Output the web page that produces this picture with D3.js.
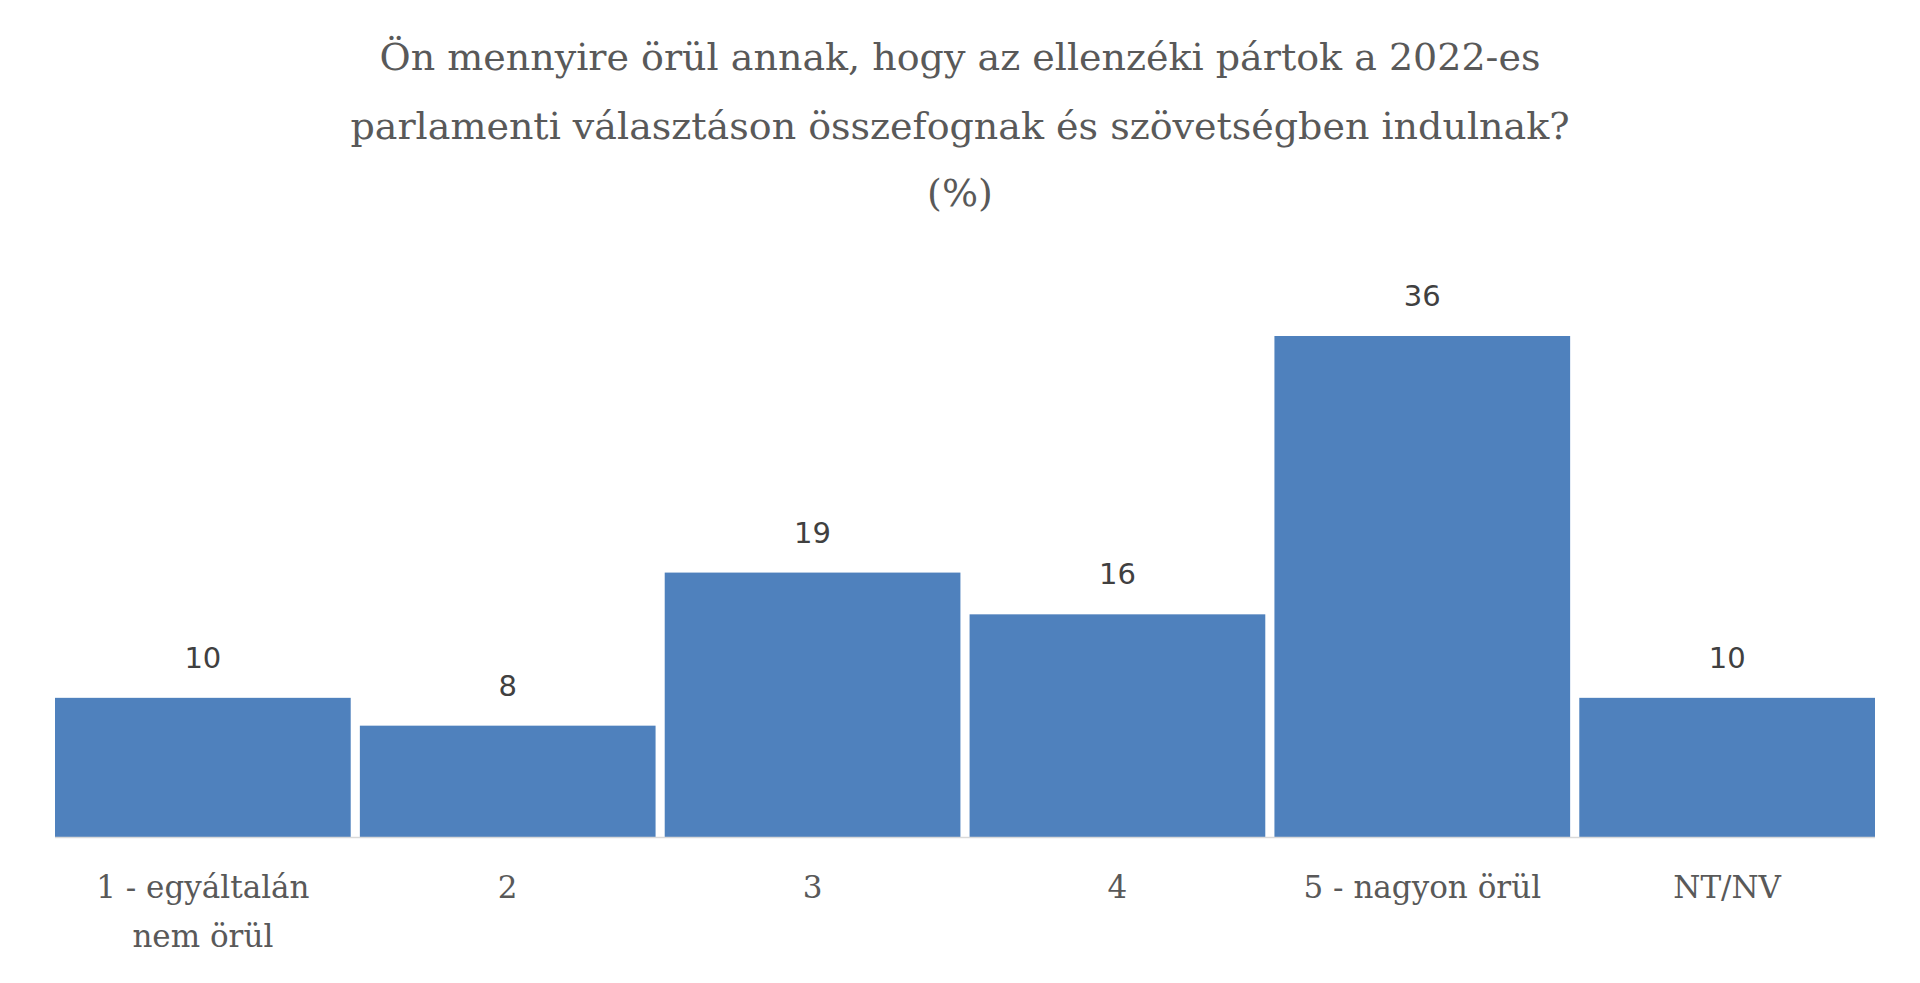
<!DOCTYPE html>
<html><head><meta charset="utf-8">
<script src="https://cdn.jsdelivr.net/npm/d3@7"></script>
<style>body{margin:0;background:#fff}</style>
</head><body>
<svg id="chart" width="1920" height="983"></svg>
<script>
const categories = ['1 - egyáltalán\nnem örül', '2', '3', '4', '5 - nagyon örül', 'NT/NV'];
const values = [10, 8, 19, 16, 36, 10];
const titleLines = ['Ön mennyire örül annak, hogy az ellenzéki pártok a 2022-es',
  'parlamenti választáson összefognak és szövetségben indulnak?', '(%)'];

const svg = d3.select('#chart');
const margin = {left: 55, right: 45, top: 0, baseline: 837};

const x = d3.scaleBand().domain(categories).range([margin.left, 1920 - margin.right]).paddingInner(0.03).paddingOuter(0);
const y = d3.scaleLinear().domain([0, 36]).range([margin.baseline, 336]);

svg.append('g').selectAll('text').data(titleLines).join('text')
  .attr('x', 960).attr('y', (d, i) => [70, 139, 206][i])
  .attr('text-anchor', 'middle')
  .attr('font-family', 'DejaVu Serif').attr('font-size', 38)
  .attr('fill', '#595959').text(d => d);

svg.append('g').selectAll('rect').data(values).join('rect')
  .attr('x', (d, i) => x(categories[i])).attr('width', x.bandwidth())
  .attr('y', d => y(d)).attr('height', d => y(0) - y(d))
  .attr('fill', '#4f81bd');

svg.append('g').selectAll('text').data(values).join('text')
  .attr('x', (d, i) => x(categories[i]) + x.bandwidth() / 2)
  .attr('y', d => y(d) - 30)
  .attr('text-anchor', 'middle')
  .attr('font-family', 'DejaVu Sans').attr('font-size', 29)
  .attr('fill', '#404040').text(d => d);

svg.append('line').attr('x1', margin.left).attr('x2', 1920 - margin.right)
  .attr('y1', margin.baseline + 0.5).attr('y2', margin.baseline + 0.5)
  .attr('stroke', '#d9d9d9').attr('stroke-width', 1.5);

const lab = svg.append('g').selectAll('text').data(categories).join('text')
  .attr('x', d => x(d) + x.bandwidth() / 2).attr('y', 898)
  .attr('text-anchor', 'middle')
  .attr('font-family', 'DejaVu Serif').attr('font-size', 31)
  .attr('fill', '#595959');
lab.selectAll('tspan').data(d => d.split('\n')).join('tspan')
  .attr('x', function() { return this.parentNode.getAttribute('x'); })
  .attr('dy', (d, i) => i ? 49 : 0).text(d => d);
</script>
</body></html>
